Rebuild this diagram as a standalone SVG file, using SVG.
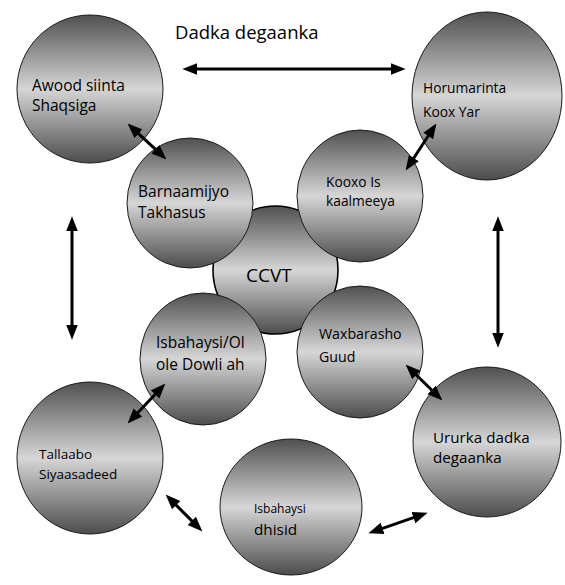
<svg xmlns="http://www.w3.org/2000/svg" width="565" height="585" viewBox="0 0 565 585">
<style>
.node{fill:url(#g);stroke:#1a1a1a;stroke-width:1}
.center{fill:url(#g);stroke:#000;stroke-width:1.6}
text{font-family:"Open Sans","Noto Sans","Liberation Sans",sans-serif;fill:#000}
.conn line{stroke:#000;stroke-width:3;marker-start:url(#ah);marker-end:url(#ah)}
</style>
<defs>
<linearGradient id="g" x1="0" y1="0" x2="0" y2="1">
<stop offset="0" stop-color="#505050"/>
<stop offset="0.5" stop-color="#d6d6d6"/>
<stop offset="1" stop-color="#4c4c4c"/>
</linearGradient>
<marker id="ah" markerUnits="userSpaceOnUse" markerWidth="15" markerHeight="13" viewBox="0 0 14 11" refX="5" refY="5.5" orient="auto-start-reverse">
<path d="M0,0 L14,5.5 L0,11 z" fill="#000"/>
</marker>
</defs>
<rect width="565" height="585" fill="#fff"/>
<text x="175" y="39" font-size="18.5">Dadka degaanka</text>
<g id="ccvt"><ellipse class="center" cx="275.5" cy="270" rx="62.5" ry="64"/><text x="246" y="282" font-size="19">CCVT</text></g>
<g id="awood"><ellipse class="node" cx="90" cy="89" rx="73" ry="74"/><text x="32" y="91" font-size="15.5">Awood siinta</text><text x="32" y="111" font-size="15.5">Shaqsiga</text></g>
<g id="horumarinta"><ellipse class="node" cx="487" cy="96" rx="75" ry="84"/><text x="423" y="93" font-size="13.8">Horumarinta</text><text x="423" y="117" font-size="13.8">Koox Yar</text></g>
<g id="barnaamijyo"><ellipse class="node" cx="190" cy="203" rx="63" ry="65"/><text x="138" y="197" font-size="15.5">Barnaamijyo</text><text x="138" y="218" font-size="15.5">Takhasus</text></g>
<g id="kooxo"><ellipse class="node" cx="360" cy="196" rx="63" ry="66"/><text x="326" y="187" font-size="13.8">Kooxo Is</text><text x="326" y="206" font-size="13.8">kaalmeeya</text></g>
<g id="isbahaysi-olole"><ellipse class="node" cx="203" cy="359" rx="63" ry="66"/><text x="156" y="348" font-size="15.5">Isbahaysi/Ol</text><text x="156" y="370" font-size="15.5">ole Dowli ah</text></g>
<g id="waxbarasho"><ellipse class="node" cx="360" cy="352" rx="63" ry="66"/><text x="319" y="339" font-size="14.2">Waxbarasho</text><text x="319" y="362" font-size="14.2">Guud</text></g>
<g id="tallaabo"><ellipse class="node" cx="90" cy="458" rx="73" ry="76"/><text x="39" y="459" font-size="13.5">Tallaabo</text><text x="39" y="479" font-size="13.5">Siyaasadeed</text></g>
<g id="isbahaysi-dhisid"><ellipse class="node" cx="291" cy="507" rx="71" ry="68"/><text x="254" y="513" font-size="12">Isbahaysi</text><text x="254" y="535" font-size="15.3">dhisid</text></g>
<g id="ururka"><ellipse class="node" cx="487" cy="442" rx="74" ry="75"/><text x="433" y="443" font-size="15.2">Ururka dadka</text><text x="433" y="463" font-size="15.2">degaanka</text></g>
<g id="connectors" class="conn">
<line x1="192" y1="69" x2="396" y2="69"/>
<line x1="72" y1="226" x2="72" y2="330"/>
<line x1="498" y1="226" x2="498" y2="338"/>
<line x1="134.6" y1="130.1" x2="159.4" y2="152.9"/>
<line x1="431.1" y1="131.5" x2="410.9" y2="162.5"/>
<line x1="412.5" y1="371.3" x2="435.5" y2="393.7"/>
<line x1="158.8" y1="390.5" x2="134.2" y2="416.5"/>
<line x1="172.4" y1="501.4" x2="195.6" y2="524.6"/>
<line x1="377.5" y1="530.1" x2="418.5" y2="515.9"/>
</g>
</svg>
